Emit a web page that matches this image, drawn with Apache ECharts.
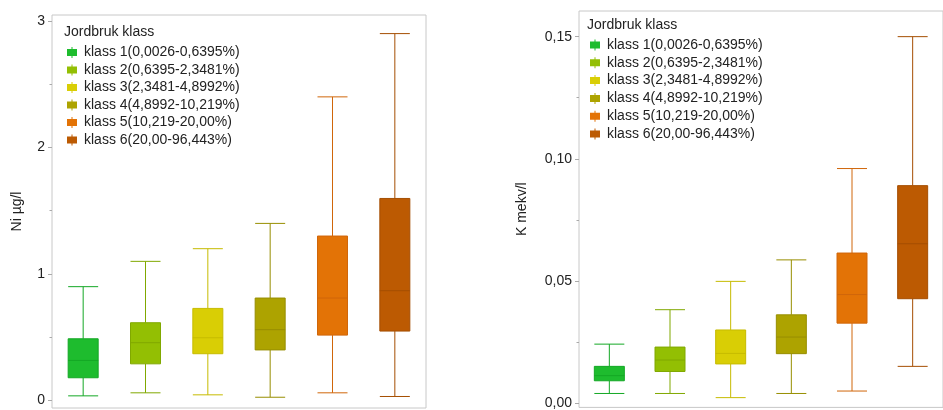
<!DOCTYPE html>
<html>
<head>
<meta charset="utf-8">
<script src="https://cdn.jsdelivr.net/npm/echarts@6/dist/echarts.min.js"></script>
<style>
html,body{margin:0;padding:0;background:#fff;}
#chart{width:943px;height:410px;}
</style>
</head>
<body>
<div id="chart"></div>
<script>
// ---- data ----
const legendTitle = 'Jordbruk klass';
const categories = [
  'klass 1(0,0026-0,6395%)',
  'klass 2(0,6395-2,3481%)',
  'klass 3(2,3481-4,8992%)',
  'klass 4(4,8992-10,219%)',
  'klass 5(10,219-20,00%)',
  'klass 6(20,00-96,443%)'
];
// [min, Q1, median, Q3, max]
const niBoxes = [
  [0.037, 0.18, 0.317, 0.488, 0.90],
  [0.061, 0.29, 0.457, 0.615, 1.10],
  [0.045, 0.37, 0.496, 0.728, 1.20],
  [0.026, 0.40, 0.560, 0.810, 1.40],
  [0.061, 0.517, 0.810, 1.300, 2.40],
  [0.032, 0.549, 0.868, 1.597, 2.90]
];
const kBoxes = [
  [0.0039, 0.0091, 0.0112, 0.0150, 0.0241],
  [0.0039, 0.0129, 0.0176, 0.0229, 0.0382],
  [0.0022, 0.0160, 0.0203, 0.0299, 0.0498],
  [0.0039, 0.0202, 0.0270, 0.0361, 0.0586],
  [0.0049, 0.0327, 0.0444, 0.0614, 0.0960],
  [0.0150, 0.0427, 0.0652, 0.0890, 0.1500]
];
const niTicks = [0, 1, 2, 3];
const niMinorTicks = [0.5, 1.5, 2.5];
const kTicks = [0, 0.05, 0.10, 0.15];
const kMinorTicks = [0.025, 0.075, 0.125];
const niName = 'Ni µg/l';
const kName = 'K mekv/l';

// ---- styles ----
const fills = ['#1EBC2E', '#93BF03', '#D9CE05', '#ADA300', '#E37306', '#BC5A02'];
const borders = ['#14A825', '#80A800', '#C6BB00', '#978E00', '#D0660A', '#A54E02'];
const FONT = 'Liberation Sans, Arial, sans-serif';
const TXT = '#222';
const icon = 'path://M0,2 L10,2 L10,9 L0,9 Z M4.5,0 L5.5,0 L5.5,11 L4.5,11 Z';

const chart = echarts.init(document.getElementById('chart'), null, {renderer: 'canvas'});

function boxData(arr) {
  return arr.map((v, i) => ({
    value: v,
    itemStyle: {color: fills[i], borderColor: borders[i], borderWidth: 1}
  }));
}

function yAxes(gridIndex, min, max, ticks, minor, fmt, name, nameGap) {
  return [{
    type: 'value', gridIndex, min, max, position: 'left',
    name, nameLocation: 'middle', nameGap,
    nameTextStyle: {fontSize: 14, color: TXT, fontFamily: FONT},
    splitLine: {show: false},
    axisLine: {show: false},
    axisTick: {show: true, length: 4, customValues: ticks, lineStyle: {color: '#aaa'}},
    axisLabel: {show: true, customValues: ticks, margin: 7, fontSize: 14, color: TXT, fontFamily: FONT, formatter: fmt}
  }, {
    type: 'value', gridIndex, min, max, position: 'left', offset: 0,
    splitLine: {show: false},
    axisLine: {show: false},
    axisTick: {show: true, length: 2.5, customValues: minor, lineStyle: {color: '#aaa'}},
    axisLabel: {show: false}
  }];
}

const option = {
  backgroundColor: '#fff',
  animation: false,
  textStyle: {fontFamily: FONT},
  grid: [
    {left: 52, top: 15, width: 374, bottom: 2, show: true, borderColor: '#c8c8c8', borderWidth: 1, backgroundColor: '#fff'},
    {left: 579, top: 11, width: 376, bottom: 2, show: true, borderColor: '#c8c8c8', borderWidth: 1, backgroundColor: '#fff'}
  ],
  title: [
    {text: legendTitle, left: 64, top: 25, padding: 0, textStyle: {fontSize: 14, fontWeight: 'normal', color: TXT, fontFamily: FONT}},
    {text: legendTitle, left: 587, top: 18, padding: 0, textStyle: {fontSize: 14, fontWeight: 'normal', color: TXT, fontFamily: FONT}}
  ],
  legend: [
    {orient: 'vertical', left: 67, top: 45.5, padding: 0, itemWidth: 10, itemHeight: 11, itemGap: 3.5, icon,
     selectedMode: false, data: categories,
     textStyle: {fontSize: 14, color: TXT, fontFamily: FONT, padding: [0, 0, 0, 2]}},
    {orient: 'vertical', left: 590, top: 38, padding: 0, itemWidth: 10, itemHeight: 11, itemGap: 3.8, icon,
     selectedMode: false, data: categories,
     textStyle: {fontSize: 14, color: TXT, fontFamily: FONT, padding: [0, 0, 0, 2]}}
  ],
  xAxis: [
    {type: 'category', gridIndex: 0, data: categories, boundaryGap: true,
     axisLine: {show: false}, axisTick: {show: false}, axisLabel: {show: false}, splitLine: {show: false}},
    {type: 'category', gridIndex: 1, data: categories, boundaryGap: true,
     axisLine: {show: false}, axisTick: {show: false}, axisLabel: {show: false}, splitLine: {show: false}}
  ],
  yAxis: [
    ...yAxes(0, -0.059, 3.047, niTicks, niMinorTicks, v => String(Math.round(v)), niName, 28),
    ...yAxes(1, -0.0018, 0.1605, kTicks, kMinorTicks, v => v.toFixed(2).replace('.', ','), kName, 50)
  ],
  series: [
    {type: 'boxplot', name: 'Ni', xAxisIndex: 0, yAxisIndex: 0, boxWidth: [30, 30], data: boxData(niBoxes)},
    {type: 'boxplot', name: 'K', xAxisIndex: 1, yAxisIndex: 2, boxWidth: [30, 30], data: boxData(kBoxes)},
    ...categories.map((c, i) => ({
      type: 'scatter', name: c, xAxisIndex: 0, yAxisIndex: 0, data: [],
      itemStyle: {color: fills[i], opacity: 1}
    }))
  ]
};
chart.setOption(option);
</script>
</body>
</html>
